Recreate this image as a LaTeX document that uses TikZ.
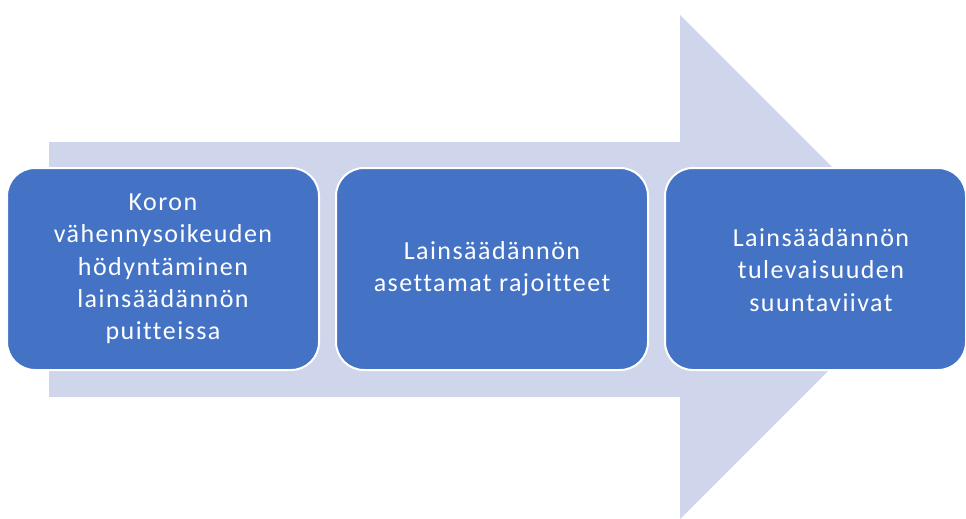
\documentclass[tikz,border=0pt]{standalone}
\usepackage{fontspec}
\setmainfont{Carlito}[LetterSpace=5.6,Ligatures={NoCommon}]
\definecolor{boxblue}{HTML}{4472C4}
\definecolor{arrowfill}{HTML}{CFD5EA}
\begin{document}
\begin{tikzpicture}[x=1pt,y=-1pt,
  stagebox/.style={rectangle, rounded corners=28pt, fill=boxblue, draw=white, line width=2pt,
    minimum height=202pt, text=white, align=center, inner sep=0pt,
    font=\fontsize{26}{32.3}\selectfont},
  stagetext/.style={text=white, align=center, inner sep=0pt, font=\fontsize{26}{32.3}\selectfont}]
\useasboundingbox (0,0) rectangle (966,519);
\fill[arrowfill] (49,142) -- (680,142) -- (680,15) -- (932,267) -- (680,519) -- (680,397) -- (49,397) -- cycle;
\node[stagebox, minimum width=312pt] (b1) at (163,269) {Koron\\vähennysoikeuden\\hödyntäminen\\lainsäädännön\\puitteissa};
\node[stagebox, minimum width=312pt] (b2) at (492,269) {Lainsäädännön\\asettamat rajoitteet};
\node[stagebox, minimum width=301pt] (b3) at (815.5,269) {};
\node[stagetext] (t3) at (821,270) {Lainsäädännön\\tulevaisuuden\\suuntaviivat};
\end{tikzpicture}
\end{document}
